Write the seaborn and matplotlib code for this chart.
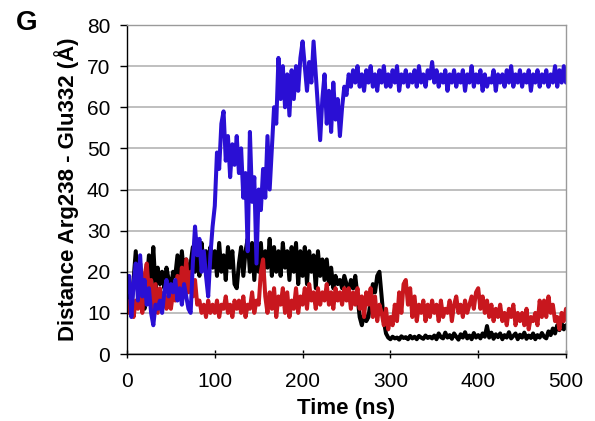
import numpy as np
import pandas as pd
import matplotlib
matplotlib.use("Agg")
import matplotlib.pyplot as plt
import seaborn as sns

# time axis, 2.5 ns steps
time_ns = np.arange(0, 500.1, 2.5)

# blue trace (10 per 25 ns)
blue = [15, 19, 9, 17, 22, 13, 24, 14, 18, 12,
        16, 10, 7, 12, 11, 13, 10, 15, 18, 14,
        17, 15, 18, 13, 16, 12, 17, 14, 11, 10,
        22, 31, 24, 28, 20, 25, 19, 14, 24, 31,
        36, 49, 45, 56, 59, 47, 53, 43, 51, 46,
        53, 44, 50, 38, 44, 25, 54, 37, 43, 22,
        40, 35, 45, 38, 53, 40, 50, 60, 56, 72,
        62, 70, 60, 68, 58, 69, 62, 70, 64, 72,
        76, 70, 64, 71, 66, 76, 68, 60, 52, 62,
        68, 56, 64, 54, 66, 57, 62, 53, 60, 65,
        63, 68, 65, 69, 66, 70, 65, 68, 64, 69,
        66, 70, 65, 68, 64, 69, 66, 70, 65, 68,
        65, 69, 66, 70, 64, 68, 66, 69, 65, 68,
        66, 69, 65, 70, 66, 68, 65, 69, 67, 71,
        66, 69, 65, 68, 66, 69, 64, 68, 66, 69,
        65, 68, 66, 69, 64, 68, 66, 70, 65, 68,
        66, 69, 64, 68, 65, 67, 66, 69, 64, 68,
        66, 68, 65, 69, 66, 70, 65, 68, 66, 69,
        65, 68, 66, 69, 64, 68, 66, 69, 65, 68,
        66, 69, 65, 68, 66, 70, 65, 69, 66, 70,
        66]

black = [12, 15, 11, 18, 25, 16, 22, 14, 11, 17,
         24, 18, 26, 16, 21, 17, 20, 16, 21, 18,
         16, 20, 19, 24, 18, 25, 19, 23, 18, 22,
         26, 20, 24, 19, 27, 21, 25, 19, 26, 21,
         25, 19, 27, 20, 24, 18, 26, 21, 25, 17,
         16, 22, 26, 19, 25, 28, 20, 27, 18, 26,
         20, 27, 19, 25, 21, 28, 19, 26, 20, 25,
         19, 27, 21, 25, 18, 26, 20, 27, 17, 25,
         19, 26, 17, 25, 20, 24, 16, 25, 19, 23,
         18, 23, 17, 21, 16, 19, 17, 18, 16, 19,
         17, 15, 18, 16, 19, 14, 9, 7, 10, 8,
         9, 13, 17, 15, 19, 20, 14, 8, 5, 4,
         3.6, 4.2, 3.8, 4.0, 3.5, 4.3, 3.9, 4.1, 3.6, 4.4,
         3.8, 4.2, 3.6, 4.4, 4.0, 3.7, 4.5, 3.9, 4.2, 3.8,
         4.5, 3.6, 5.0, 4.1, 3.8, 5.2, 4.0, 4.6, 3.7, 5.0,
         4.2, 3.5, 4.8, 4.0, 5.3, 3.8, 4.5, 3.6, 5.1, 4.0,
         4.6, 3.8, 5.0, 4.2, 6.8, 4.0, 5.2, 3.7, 4.8, 4.1,
         5.0, 3.6, 4.6, 4.0, 5.3, 3.8, 4.4, 5.0, 3.6, 4.7,
         4.0, 5.2, 3.7, 4.5, 3.9, 5.0, 3.6, 4.6, 4.0, 5.1,
         4.2, 3.8, 5.5, 4.6, 6.2, 5.0, 7.0, 5.8, 7.5, 6.0,
         7]

red = [13, 10, 14, 9, 13, 11, 14, 10, 19, 22,
       15, 18, 11, 17, 10, 16, 12, 15, 11, 14,
       11, 15, 13, 19, 14, 21, 16, 23, 15, 20,
       14, 18, 12, 13, 10, 12, 9, 13, 10, 12,
       10, 13, 9, 12, 11, 14, 10, 12, 9, 13,
       11, 13, 10, 14, 9, 12, 11, 15, 10, 13,
       12, 20, 23, 14, 10, 15, 11, 16, 9, 14,
       12, 16, 10, 15, 9, 13, 11, 16, 10, 14,
       12, 16, 11, 17, 13, 15, 11, 16, 12, 15,
       13, 17, 12, 15, 11, 16, 13, 15, 12, 16,
       13, 16, 11, 15, 12, 16, 11, 14, 9, 15,
       12, 16, 9, 14, 8, 12, 10, 7, 11, 6,
       9, 7, 12, 8, 15, 10, 17, 18, 12, 16,
       9, 14, 8, 12, 10, 13, 8, 12, 9, 13,
       10, 12, 8, 13, 9, 11, 10, 13, 8, 12,
       14, 10, 12, 9, 13, 10, 12, 14, 11, 15,
       16, 11, 14, 10, 13, 9, 12, 8, 11, 9,
       12, 8, 10, 7, 11, 9, 12, 7, 10, 8,
       10, 7, 11, 6, 9, 8, 10, 7, 13, 9,
       13, 9, 14, 10, 12, 8, 9, 6, 10, 8,
       11]

x_ticks = [0, 100, 200, 300, 400, 500]
y_ticks = [0, 10, 20, 30, 40, 50, 60, 70, 80]

sns.set_style("white")
plt.rcParams['font.family'] = ['Liberation Sans', 'DejaVu Sans']
plt.rcParams['text.color'] = 'black'
plt.rcParams['axes.labelcolor'] = 'black'

fig = plt.figure(figsize=(5.95, 4.21), dpi=100)
ax = fig.add_axes([0.2134, 0.1591, 0.7379, 0.7815])

lw = 2.9
sns.lineplot(x=time_ns, y=black, color="#000000", lw=lw, ax=ax)
sns.lineplot(x=time_ns, y=red, color="#c8171e", lw=lw, ax=ax)
sns.lineplot(x=time_ns, y=blue, color="#2a0fd4", lw=lw, ax=ax)

ax.set_xlim(0, 500)
ax.set_ylim(0, 80)
ax.set_xticks(x_ticks)
ax.set_yticks(y_ticks)
ax.yaxis.grid(True, color="#b4b4b4", lw=1.2)
ax.set_axisbelow(True)

for s in ["top", "right"]:
    ax.spines[s].set_color("#9a9a9a")
    ax.spines[s].set_linewidth(1.0)
for s in ["left", "bottom"]:
    ax.spines[s].set_color("#000000")
    ax.spines[s].set_linewidth(1.0)

ax.tick_params(axis="x", direction="inout", length=6, width=1, pad=10,
               labelsize=15, colors="#000000", bottom=True)
ax.tick_params(axis="y", direction="out", length=5, width=1, pad=7,
               labelsize=15, colors="#000000", left=True)

ax.set_xlabel("Time (ns)", fontsize=16, fontweight="bold")
ax.set_ylabel("Distance Arg238 - Glu332 (Å)", fontsize=16, fontweight="bold")
ax.xaxis.set_label_coords(0.5, -0.135)
ax.yaxis.set_label_coords(-0.11, 0.5)

fig.text(0.045, 0.945, "G", fontsize=20, fontweight="bold", ha="center", va="center")

fig.savefig("out.png", dpi=100)
